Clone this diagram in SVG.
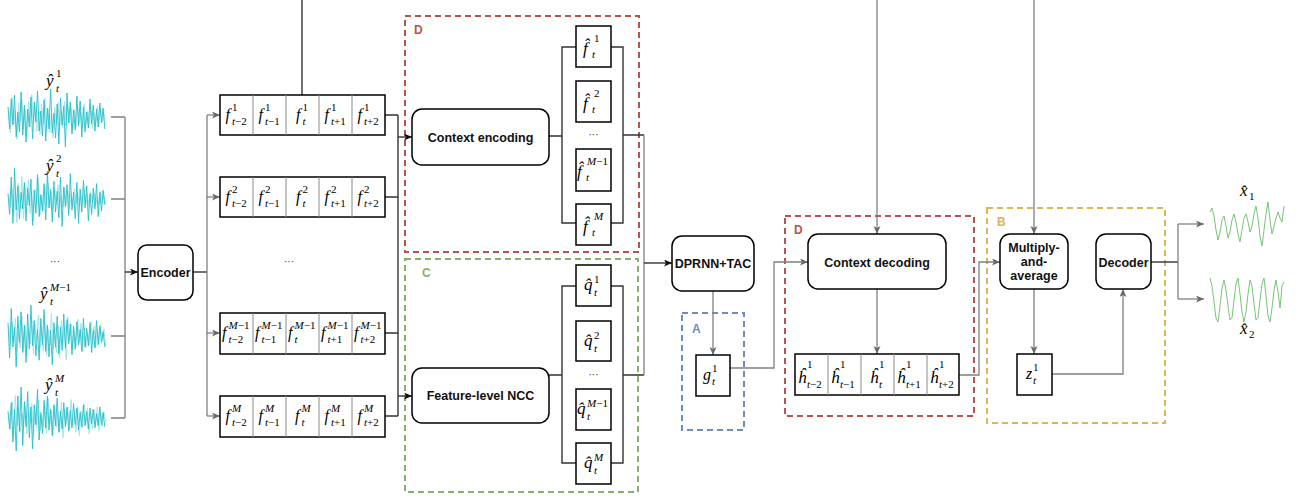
<svg xmlns="http://www.w3.org/2000/svg" xmlns:xlink="http://www.w3.org/1999/xlink" width="1299" height="497" viewBox="0 0 1299 497">
  <style>
    .box { fill: #fff; stroke: #000; stroke-width: 1.5; }
    .cell { fill: none; stroke: #000; stroke-width: 1.5; }
    .div { stroke: #8a8a8a; stroke-width: 1; }
    .lbl { font-family: "Liberation Sans", Arial, sans-serif; font-weight: bold; font-size: 12.5px; fill: #111; text-anchor: middle; }
    .grp { font-family: "Liberation Sans", Arial, sans-serif; font-weight: bold; font-size: 12px; }
    .m { font-family: "Liberation Serif", "DejaVu Serif", serif; font-style: italic; font-size: 16px; fill: #000; }
    .big { font-size: 17px; }
    .s { font-size: 11px; }
    .n { font-style: normal; }
    .dots { font-family: "Liberation Sans", Arial, sans-serif; font-size: 10px; fill: #333; text-anchor: middle; }
    .dk { fill: none; stroke: #333; stroke-width: 1.4; }
    .gy { fill: none; stroke: #808080; stroke-width: 1.3; }
    .dash { fill: none; stroke-width: 2; stroke-dasharray: 6 4; }
    .wd { fill: none; stroke: #22bfc8; stroke-width: 0.9; }
    .wl { fill: none; stroke: #a8e4e8; stroke-width: 1; }
    .wg { fill: none; stroke: #78c478; stroke-width: 1; }
  </style>
  <defs>
    <marker id="aDk" markerUnits="userSpaceOnUse" markerWidth="9" markerHeight="8" refX="8" refY="3.5" orient="auto">
      <path d="M0,0 L8,3.5 L0,7 L2,3.5 z" fill="#111"/>
    </marker>
    <marker id="aGy" markerUnits="userSpaceOnUse" markerWidth="9" markerHeight="8" refX="8" refY="3.5" orient="auto">
      <path d="M0,0 L8,3.5 L0,7 L2,3.5 z" fill="#6a6a6a"/>
    </marker>
    <!-- noise traces in index/amplitude units; placed by transform -->
    <polyline id="nA" vector-effect="non-scaling-stroke" points="0,-10 1,12 2,-18 3,8 4,-22 5,20 6,-5 7,15 8,-25 9,18 10,-12 11,25 12,-8 13,10 14,-20 15,22 16,-15 17,5 18,-26 19,14 20,-6 21,19 22,-17 23,24 24,-9 25,12 26,-28 27,16 28,-4 29,21 30,-13 31,27 32,-19 33,8 34,-11 35,30 36,-24 37,6 38,-15 39,17 40,-7 41,13 42,-21 43,9 44,-16 45,20 46,-10 47,15 48,-5 49,11 50,-18 51,7 52,-12 53,14 54,-8 55,10 56,-14 57,6 58,-9 59,12"/>
    <polyline id="nB" vector-effect="non-scaling-stroke" points="0,-5 1,14 2,-20 3,22 4,-28 5,10 6,-12 7,18 8,-6 9,9 10,-15 11,20 12,-10 13,6 14,-18 15,24 16,-8 17,13 18,-22 19,16 20,-4 21,11 22,-14 23,19 24,-25 25,8 26,-9 27,21 28,-16 29,12 30,-7 31,17 32,-20 33,25 34,-11 35,7 36,-13 37,15 38,-23 39,10 40,-6 41,18 42,-15 43,22 44,-9 45,12 46,-17 47,8 48,-12 49,20 50,-5 51,14 52,-10 53,9 54,-14 55,16 56,-6 57,11 58,-8 59,5"/>
    <polyline id="nC" vector-effect="non-scaling-stroke" points="0,-12 1,20 2,-25 3,10 4,-8 5,28 6,-18 7,6 8,-22 9,15 10,-10 11,24 12,-20 13,12 14,-28 15,9 16,-14 17,18 18,-6 19,22 20,-16 21,8 22,-24 23,14 24,-10 25,19 26,-5 27,26 28,-12 29,10 30,-18 31,16 32,-8 33,13 34,-20 35,11 36,-15 37,7 38,-11 39,17 40,-9 41,12 42,-13 43,8 44,-6 45,14 46,-16 47,10 48,-7 49,9 50,-12 51,15 52,-5 53,11 54,-14 55,8 56,-9 57,6 58,-4 59,10"/>
    <polyline id="nD" vector-effect="non-scaling-stroke" points="0,-6 1,10 2,-14 3,22 4,-8 5,30 6,-20 7,12 8,-28 9,25 10,-15 11,8 12,-24 13,18 14,-10 15,28 16,-12 17,6 18,-26 19,20 20,-5 21,14 22,-16 23,9 24,-20 25,11 26,-8 27,16 28,-12 29,7 30,-18 31,13 32,-6 33,10 34,-14 35,8 36,-10 37,12 38,-7 39,9 40,-13 41,6 42,-9 43,11 44,-5 45,8 46,-12 47,7 48,-6 49,10 50,-9 51,5 52,-8 53,9 54,-4 55,7 56,-10 57,6 58,-5 59,8"/>
  </defs>

  <!-- input channel waveforms -->
  <g id="inputs">
    <use xlink:href="#nC" class="wl" transform="translate(8.8,117) scale(1.64,0.8)"/>
    <use xlink:href="#nA" class="wd" transform="translate(8,117) scale(1.64,1)"/>
    <use xlink:href="#nD" class="wl" transform="translate(8.8,199) scale(1.64,0.8)"/>
    <use xlink:href="#nB" class="wd" transform="translate(8,199) scale(1.64,1.1)"/>
    <use xlink:href="#nA" class="wl" transform="translate(8.8,336) scale(1.64,0.8)"/>
    <use xlink:href="#nC" class="wd" transform="translate(8,336) scale(1.64,1.1)"/>
    <use xlink:href="#nB" class="wl" transform="translate(8.8,418) scale(1.64,0.8)"/>
    <use xlink:href="#nD" class="wd" transform="translate(8,418) scale(1.64,1.1)"/>
    <text class="m big" x="46" y="86">ŷ<tspan class="s n" x="56" y="77">1</tspan><tspan class="s" x="56" y="92">t</tspan></text>
    <text class="m big" x="46" y="171">ŷ<tspan class="s n" x="56" y="162">2</tspan><tspan class="s" x="56" y="177">t</tspan></text>
    <text class="dots" x="55" y="265">···</text>
    <text class="m big" x="40" y="299">ŷ<tspan class="s" x="50" y="291">M<tspan class="n">−1</tspan></tspan><tspan class="s" x="50" y="305">t</tspan></text>
    <text class="m big" x="45" y="390">ŷ<tspan class="s" x="55" y="382">M</tspan><tspan class="s" x="55" y="396">t</tspan></text>
  </g>

  <!-- output waveforms -->
  <g id="outputs">
    <polyline class="wg" points="1210,212 1212,208 1214,216 1216,230 1218,240 1220,232 1222,220 1224,216 1226,226 1228,238 1230,232 1232,220 1234,214 1236,222 1238,234 1240,242 1242,230 1244,218 1246,214 1248,222 1250,232 1252,226 1254,214 1256,206 1258,218 1260,236 1262,246 1264,230 1266,214 1268,202 1270,220 1272,234 1274,226 1276,218 1278,212 1280,218 1282,222 1284,206"/>
    <polyline class="wg" points="1210,278 1212,286 1214,302 1216,318 1218,322 1220,306 1222,288 1224,280 1226,290 1228,306 1230,320 1232,318 1234,300 1236,284 1238,278 1240,294 1242,312 1244,322 1246,312 1248,294 1250,280 1252,286 1254,304 1256,320 1258,318 1260,300 1262,284 1264,278 1266,296 1268,316 1270,322 1272,308 1274,290 1276,280 1278,292 1280,308 1282,286 1284,282"/>
    <text class="m big" x="1240" y="196">x̂<tspan class="s n" x="1249" y="200">1</tspan></text>
    <text class="m big" x="1240" y="334">x̂<tspan class="s n" x="1249" y="338">2</tspan></text>
  </g>

  <!-- dashed group outlines -->
  <g id="groups">
    <rect class="dash" x="405" y="16" width="234" height="236" stroke="#b85450"/>
    <text class="grp" x="414" y="34" fill="#b85450">D</text>
    <rect class="dash" x="405" y="259" width="233" height="233" stroke="#82b366"/>
    <text class="grp" x="422" y="277" fill="#82b366">C</text>
    <rect class="dash" x="682" y="313" width="62" height="117" stroke="#6c8ebf"/>
    <text class="grp" x="692" y="333" fill="#6c8ebf">A</text>
    <rect class="dash" x="785" y="216" width="189" height="200" stroke="#b85450"/>
    <text class="grp" x="794" y="234" fill="#b85450">D</text>
    <rect class="dash" x="987" y="208" width="178" height="215" stroke="#d6b656"/>
    <text class="grp" x="997" y="226" fill="#d6b656">B</text>
  </g>

  <!-- connectors -->
  <g id="connectors">
    <path class="gy" d="M111,117 H125 M111,199 H125 M111,336 H125 M111,418 H125 M125,117 V418"/>
    <path class="dk" d="M125,272 H138" marker-end="url(#aDk)"/>
    <path class="dk" d="M193,272 H207"/>
    <path class="gy" d="M207,115 V416"/>
    <path class="gy" d="M207,115 H220" marker-end="url(#aGy)"/>
    <path class="gy" d="M207,197 H220" marker-end="url(#aGy)"/>
    <path class="gy" d="M207,333 H220" marker-end="url(#aGy)"/>
    <path class="gy" d="M207,416 H220" marker-end="url(#aGy)"/>
    <path class="dk" d="M302,0 V95"/>
    <path class="dk" d="M385,115 H398 M385,197 H398 M385,333 H398 M385,416 H398 M398,115 V416"/>
    <path class="dk" d="M398,137 H412" marker-end="url(#aDk)"/>
    <path class="dk" d="M398,396 H412" marker-end="url(#aDk)"/>
    <path class="dk" d="M549,136 H562 M576,47 H562 V223 H576 M611,47 H623 V223 H611 M623,135 H644"/>
    <path class="dk" d="M549,375 H562 M576,286 H562 V463 H576 M611,286 H623 V463 H611 M623,375 H644"/>
    <path class="gy" d="M644,135 V375"/>
    <path class="dk" d="M644,263 H672" marker-end="url(#aDk)"/>
    <path class="gy" d="M713,291 V355" marker-end="url(#aGy)"/>
    <path class="gy" d="M730,368 H774 V262 H808" marker-end="url(#aGy)"/>
    <path class="gy" d="M877,0 V234" marker-end="url(#aGy)"/>
    <path class="gy" d="M877,289 V354" marker-end="url(#aGy)"/>
    <path class="gy" d="M959,375 H979 V262 H1000" marker-end="url(#aGy)"/>
    <path class="gy" d="M1034,0 V234" marker-end="url(#aGy)"/>
    <path class="gy" d="M1034,289 V354" marker-end="url(#aGy)"/>
    <path class="gy" d="M1052,374 H1123 V289" marker-end="url(#aGy)"/>
    <path class="dk" d="M1151,262 H1178"/>
    <path class="gy" d="M1178,224 V299"/>
    <path class="gy" d="M1178,224 H1204" marker-end="url(#aGy)"/>
    <path class="gy" d="M1178,299 H1204" marker-end="url(#aGy)"/>
  </g>

  <!-- encoder -->
  <g id="encoder">
    <rect class="box" x="138" y="245" width="55" height="55" rx="9"/>
    <text class="lbl" x="165.5" y="276.5">Encoder</text>
  </g>

  <!-- framed features per channel -->
  <g id="feat-1">
    <rect class="cell" x="220" y="95" width="165" height="40"/>
    <path class="div" d="M253,95 V135 M286,95 V135 M319,95 V135 M352,95 V135"/>
    <text class="m" x="225.5" y="120">f<tspan class="s n" x="232" y="111">1</tspan><tspan class="s" x="232" y="125">t<tspan class="n">−2</tspan></tspan></text>
    <text class="m" x="258.5" y="120">f<tspan class="s n" x="265" y="111">1</tspan><tspan class="s" x="265" y="125">t<tspan class="n">−1</tspan></tspan></text>
    <text class="m" x="296" y="120">f<tspan class="s n" x="302.5" y="111">1</tspan><tspan class="s" x="302.5" y="125">t</tspan></text>
    <text class="m" x="324.5" y="120">f<tspan class="s n" x="331" y="111">1</tspan><tspan class="s" x="331" y="125">t<tspan class="n">+1</tspan></tspan></text>
    <text class="m" x="357.5" y="120">f<tspan class="s n" x="364" y="111">1</tspan><tspan class="s" x="364" y="125">t<tspan class="n">+2</tspan></tspan></text>
  </g>
  <g id="feat-2">
    <rect class="cell" x="220" y="177" width="165" height="40"/>
    <path class="div" d="M253,177 V217 M286,177 V217 M319,177 V217 M352,177 V217"/>
    <text class="m" x="225.5" y="202">f<tspan class="s n" x="232" y="193">2</tspan><tspan class="s" x="232" y="207">t<tspan class="n">−2</tspan></tspan></text>
    <text class="m" x="258.5" y="202">f<tspan class="s n" x="265" y="193">2</tspan><tspan class="s" x="265" y="207">t<tspan class="n">−1</tspan></tspan></text>
    <text class="m" x="296" y="202">f<tspan class="s n" x="302.5" y="193">2</tspan><tspan class="s" x="302.5" y="207">t</tspan></text>
    <text class="m" x="324.5" y="202">f<tspan class="s n" x="331" y="193">2</tspan><tspan class="s" x="331" y="207">t<tspan class="n">+1</tspan></tspan></text>
    <text class="m" x="357.5" y="202">f<tspan class="s n" x="364" y="193">2</tspan><tspan class="s" x="364" y="207">t<tspan class="n">+2</tspan></tspan></text>
  </g>
  <text class="dots" x="289" y="265">···</text>
  <g id="feat-m1">
    <rect class="cell" x="220" y="313" width="165" height="41"/>
    <path class="div" d="M253,313 V354 M286,313 V354 M319,313 V354 M352,313 V354"/>
    <text class="m" x="222" y="338">f<tspan class="s" x="228.5" y="329">M<tspan class="n">−1</tspan></tspan><tspan class="s" x="228.5" y="343">t<tspan class="n">−2</tspan></tspan></text>
    <text class="m" x="255" y="338">f<tspan class="s" x="261.5" y="329">M<tspan class="n">−1</tspan></tspan><tspan class="s" x="261.5" y="343">t<tspan class="n">−1</tspan></tspan></text>
    <text class="m" x="288" y="338">f<tspan class="s" x="294.5" y="329">M<tspan class="n">−1</tspan></tspan><tspan class="s" x="294.5" y="343">t</tspan></text>
    <text class="m" x="321" y="338">f<tspan class="s" x="327.5" y="329">M<tspan class="n">−1</tspan></tspan><tspan class="s" x="327.5" y="343">t<tspan class="n">+1</tspan></tspan></text>
    <text class="m" x="354" y="338">f<tspan class="s" x="360.5" y="329">M<tspan class="n">−1</tspan></tspan><tspan class="s" x="360.5" y="343">t<tspan class="n">+2</tspan></tspan></text>
  </g>
  <g id="feat-m">
    <rect class="cell" x="220" y="396" width="165" height="41"/>
    <path class="div" d="M253,396 V437 M286,396 V437 M319,396 V437 M352,396 V437"/>
    <text class="m" x="225.5" y="421">f<tspan class="s" x="232" y="412">M</tspan><tspan class="s" x="232" y="426">t<tspan class="n">−2</tspan></tspan></text>
    <text class="m" x="258.5" y="421">f<tspan class="s" x="265" y="412">M</tspan><tspan class="s" x="265" y="426">t<tspan class="n">−1</tspan></tspan></text>
    <text class="m" x="295" y="421">f<tspan class="s" x="301.5" y="412">M</tspan><tspan class="s" x="301.5" y="426">t</tspan></text>
    <text class="m" x="324.5" y="421">f<tspan class="s" x="331" y="412">M</tspan><tspan class="s" x="331" y="426">t<tspan class="n">+1</tspan></tspan></text>
    <text class="m" x="357.5" y="421">f<tspan class="s" x="364" y="412">M</tspan><tspan class="s" x="364" y="426">t<tspan class="n">+2</tspan></tspan></text>
  </g>

  <!-- context encoding branch -->
  <g id="context-encoding">
    <rect class="box" x="412" y="109" width="137" height="56" rx="10"/>
    <text class="lbl" x="480.5" y="141.5">Context encoding</text>
  </g>
  <g id="fhat">
    <rect class="box" x="576" y="26" width="35" height="41"/>
    <text class="m big" x="583" y="54">f̂<tspan class="s n" x="594" y="42">1</tspan><tspan class="s" x="592" y="58">t</tspan></text>
    <rect class="box" x="576" y="81" width="35" height="41"/>
    <text class="m big" x="583" y="109">f̂<tspan class="s n" x="594" y="97">2</tspan><tspan class="s" x="592" y="113">t</tspan></text>
    <text class="dots" x="593.5" y="138">···</text>
    <rect class="box" x="576" y="149" width="35" height="42"/>
    <text class="m big" x="577" y="177">f̂<tspan class="s" x="587" y="165">M<tspan class="n">−1</tspan></tspan><tspan class="s" x="586" y="181">t</tspan></text>
    <rect class="box" x="576" y="204" width="35" height="41"/>
    <text class="m big" x="583" y="232">f̂<tspan class="s" x="594" y="220">M</tspan><tspan class="s" x="592" y="236">t</tspan></text>
  </g>

  <!-- feature-level NCC branch -->
  <g id="feature-ncc">
    <rect class="box" x="412" y="368" width="137" height="55" rx="10"/>
    <text class="lbl" x="480.5" y="400">Feature-level NCC</text>
  </g>
  <g id="qhat">
    <rect class="box" x="576" y="265" width="35" height="41"/>
    <text class="m big" x="584" y="290">q̂<tspan class="s n" x="594" y="283">1</tspan><tspan class="s" x="594" y="296">t</tspan></text>
    <rect class="box" x="576" y="321" width="35" height="40"/>
    <text class="m big" x="584" y="346">q̂<tspan class="s n" x="594" y="339">2</tspan><tspan class="s" x="594" y="352">t</tspan></text>
    <text class="dots" x="593.5" y="378">···</text>
    <rect class="box" x="576" y="389" width="35" height="41"/>
    <text class="m big" x="577" y="414">q̂<tspan class="s" x="587" y="407">M<tspan class="n">−1</tspan></tspan><tspan class="s" x="587" y="420">t</tspan></text>
    <rect class="box" x="576" y="443" width="35" height="41"/>
    <text class="m big" x="584" y="468">q̂<tspan class="s" x="594" y="461">M</tspan><tspan class="s" x="594" y="474">t</tspan></text>
  </g>

  <!-- separation network -->
  <g id="dprnn-tac">
    <rect class="box" x="672" y="236" width="82" height="55" rx="10"/>
    <text class="lbl" x="713" y="267.5">DPRNN+TAC</text>
  </g>
  <g id="g-node">
    <rect class="box" x="696" y="355" width="34" height="41"/>
    <text class="m" x="703" y="380">g<tspan class="s n" x="712" y="372">1</tspan><tspan class="s" x="712" y="385">t</tspan></text>
  </g>

  <!-- context decoding branch -->
  <g id="context-decoding">
    <rect class="box" x="808" y="234" width="138" height="55" rx="10"/>
    <text class="lbl" x="877" y="266.5">Context decoding</text>
  </g>
  <g id="hhat">
    <rect class="cell" x="795" y="354" width="164" height="41"/>
    <path class="div" d="M828,354 V395 M861,354 V395 M894,354 V395 M927,354 V395"/>
    <text class="m big" x="798" y="383">ĥ<tspan class="s n" x="807" y="368">1</tspan><tspan class="s" x="807" y="388">t<tspan class="n">−2</tspan></tspan></text>
    <text class="m big" x="831" y="383">ĥ<tspan class="s n" x="840" y="368">1</tspan><tspan class="s" x="840" y="388">t<tspan class="n">−1</tspan></tspan></text>
    <text class="m big" x="870" y="383">ĥ<tspan class="s n" x="879" y="368">1</tspan><tspan class="s" x="879" y="388">t</tspan></text>
    <text class="m big" x="897" y="383">ĥ<tspan class="s n" x="906" y="368">1</tspan><tspan class="s" x="906" y="388">t<tspan class="n">+1</tspan></tspan></text>
    <text class="m big" x="930" y="383">ĥ<tspan class="s n" x="939" y="368">1</tspan><tspan class="s" x="939" y="388">t<tspan class="n">+2</tspan></tspan></text>
  </g>

  <!-- reconstruction -->
  <g id="multiply-average">
    <rect class="box" x="1000" y="234" width="68" height="55" rx="10"/>
    <text class="lbl" x="1034" y="252">Multiply-</text>
    <text class="lbl" x="1034" y="266">and-</text>
    <text class="lbl" x="1034" y="280">average</text>
  </g>
  <g id="z-node">
    <rect class="box" x="1017" y="354" width="35" height="41"/>
    <text class="m" x="1026" y="379">z<tspan class="s n" x="1033" y="371">1</tspan><tspan class="s" x="1033" y="384">t</tspan></text>
  </g>
  <g id="decoder">
    <rect class="box" x="1096" y="234" width="55" height="55" rx="10"/>
    <text class="lbl" x="1123.5" y="266.5">Decoder</text>
  </g>
</svg>
